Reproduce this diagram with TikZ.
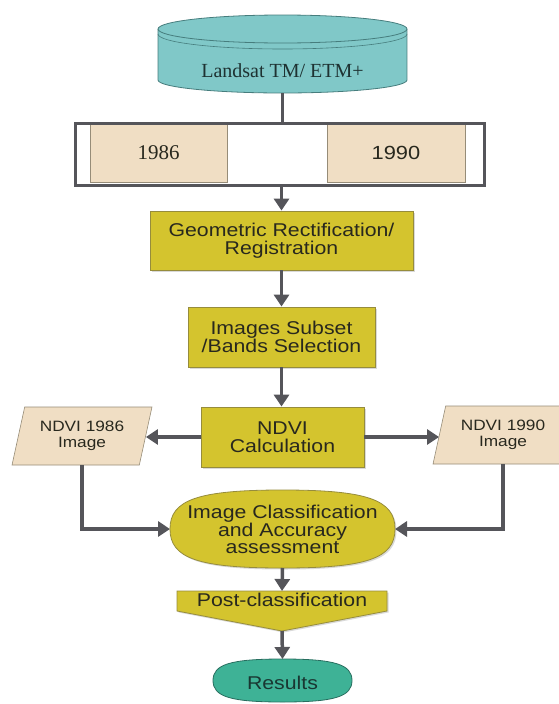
\documentclass[tikz,border=0pt]{standalone}
\usepackage{fontspec}
\setmainfont{Liberation Sans}[FakeStretch=1.15]
\newfontfamily\myserif{Liberation Serif}
\usetikzlibrary{arrows.meta,shapes.geometric,shadows}
\definecolor{yfill}{RGB}{212,196,46}
\definecolor{yline}{RGB}{150,140,60}
\definecolor{beige}{RGB}{240,222,196}
\definecolor{beigeline}{RGB}{150,140,120}
\definecolor{cylfill}{RGB}{128,200,200}
\definecolor{cylline}{RGB}{70,125,125}
\definecolor{resfill}{RGB}{62,178,150}
\definecolor{resline}{RGB}{40,110,95}
\definecolor{arrowc}{RGB}{85,85,90}
\definecolor{txt}{RGB}{40,40,30}
\newcommand\bigsans{\fontsize{18.5}{17.5}\selectfont}
\newcommand\smallsans{\fontsize{15}{16.5}\selectfont}
\newcommand\supell[4]{({#1-#3},{#2}) .. controls ({#1-#3},{#2-0.75*#4}) and ({#1-0.75*#3},{#2-#4}) .. ({#1},{#2-#4}) .. controls ({#1+0.75*#3},{#2-#4}) and ({#1+#3},{#2-0.75*#4}) .. ({#1+#3},{#2}) .. controls ({#1+#3},{#2+0.75*#4}) and ({#1+0.75*#3},{#2+#4}) .. ({#1},{#2+#4}) .. controls ({#1-0.75*#3},{#2+#4}) and ({#1-#3},{#2+0.75*#4}) .. cycle}
\begin{document}
\begin{tikzpicture}[x=1pt,y=-1pt,
  arr/.style={line width=3.5pt, draw=arrowc, -{Triangle[width=15pt,length=12pt]}},
  ln/.style={line width=3.5pt, draw=arrowc},
  shad/.style={drop shadow={shadow xshift=1.5pt, shadow yshift=-1.5pt, opacity=0.3}},
  ybox/.style={rectangle, draw=yline, line width=0.8pt, fill=yfill, inner sep=0pt, align=center, font=\bigsans, text=txt, shad},
  yshape/.style={draw=yline, line width=0.8pt, fill=yfill, shad},
  yearbox/.style={rectangle, draw=beigeline, line width=0.6pt, fill=beige, inner sep=0pt, text=txt, minimum height=59, drop shadow={shadow xshift=1pt, shadow yshift=-1pt, opacity=0.25}},
  para/.style={trapezium, trapezium stretches=true, trapezium left angle=72.8, trapezium right angle=107.2, minimum width=140, minimum height=58, inner sep=0pt, draw=beigeline, line width=0.6pt, fill=beige, align=center, font=\smallsans, text=txt},
  lbl/.style={inner sep=0pt, align=center, font=\bigsans, text=txt},
  area/.style={inner sep=0pt, outer sep=0pt}
]
\useasboundingbox (0,0) rectangle (559,704);

% database cylinder
\fill[cylfill] (158,29) rectangle (407,80);
\fill[cylfill] (282.5,80) ellipse [x radius=124.5, y radius=13];
\draw[cylline, line width=0.8pt] (158,29) -- (158,80) arc[start angle=180, end angle=0, x radius=124.5, y radius=13] -- (407,29);
\draw[cylline, line width=0.8pt, fill=cylfill] (282.5,29) ellipse [x radius=124.5, y radius=14];
\draw[cylline, line width=0.6pt] (158,34) arc[start angle=180, end angle=0, x radius=124.5, y radius=15];
\node[area, minimum width=249, minimum height=78] (db) at (282.5,54) {};
\node[inner sep=0pt, font=\myserif\fontsize{20}{22}\selectfont, text={rgb,255:red,30;green,50;blue,50}] (dbt) at (282.5,71) {Landsat TM/ ETM+};

% years
\node[yearbox, minimum width=137, font=\myserif\fontsize{21}{22}\selectfont] (y86) at (158.5,152.5) {1986};
\node[yearbox, minimum width=138, font=\fontsize{19}{20}\selectfont] (y90) at (396,152.5) {1990};
\node[rectangle, draw=arrowc, line width=3pt, minimum width=409, minimum height=62, inner sep=0pt] (frame) at (279.5,154) {};

% process boxes
\node[ybox, minimum width=263, minimum height=59] (geo) at (281.5,240.5) {Geometric Rectification/\\Registration};
\node[ybox, minimum width=187, minimum height=60] (img) at (281.5,337) {Images Subset\\/Bands Selection};
\node[ybox, minimum width=163, minimum height=60] (ndvi) at (282.5,437) {NDVI\\Calculation};

\node[para] (p86) at (82,436) {NDVI 1986\\Image};
\node[para] (p90) at (503,435) {NDVI 1990\\Image};

% classification
\path[yshape] \supell{282.5}{529}{112.5}{39};
\node[area, minimum width=225, minimum height=78] (cls) at (282.5,529) {};
\node[lbl] (clst) at (282.5,529.5) {Image Classification\\and Accuracy\\assessment};

% post-classification
\path[yshape] (177,591) -- (387,591) -- (387,611) -- (282,631) -- (177,611) -- cycle;
\node[area, minimum width=210, minimum height=40] (post) at (282,611) {};
\node[lbl] (postt) at (282,600) {Post-classification};

% results
\path[draw=resline, line width=0.8pt, fill=resfill] \supell{282.5}{680.5}{69.5}{21.5};
\node[area, minimum width=139, minimum height=43, font=\bigsans, text={rgb,255:red,25;green,55;blue,50}] (res) at (282.5,680.5) {};
\node[lbl, text={rgb,255:red,25;green,55;blue,50}] (rest) at (282.5,683) {Results};

% connectors
\draw[ln] (db.south) -- (db.south |- frame.north);
\draw[arr] (geo.north |- frame.south) -- (geo.north);
\draw[arr] (geo.south) -- (img.north);
\draw[arr] (img.south) -- (img.south |- ndvi.north);
\draw[arr] (ndvi.west) -- (ndvi.west -| p86.east);
\draw[arr] (ndvi.east) -- (ndvi.east -| p90.west);
\draw[arr] (p86.south) |- (cls.west);
\draw[arr] (p90.south) |- (cls.east);
\draw[arr] (cls.south) -- (post.north);
\draw[arr] (post.south) -- (res.north);
\end{tikzpicture}
\end{document}
